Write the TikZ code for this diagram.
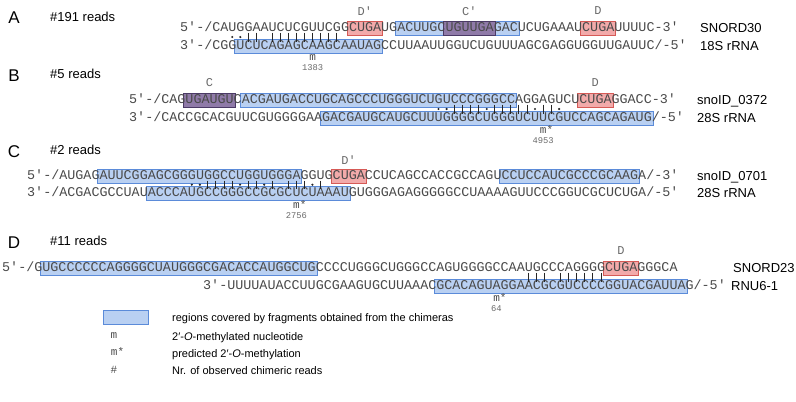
\documentclass[tikz,border=0pt]{standalone}
\usepackage{fontspec}
\setmainfont{Liberation Sans}
\newfontfamily\seqf{Liberation Mono}
\definecolor{seqgray}{HTML}{4A4A4A}
\definecolor{labgray}{HTML}{6A6A6A}
\definecolor{bluefill}{HTML}{B9D0F2}
\definecolor{blueline}{HTML}{5B8BD9}
\definecolor{redfill}{HTML}{F2AAAA}
\definecolor{redline}{HTML}{D65A56}
\definecolor{purpfill}{HTML}{8F7AA8}
\definecolor{purpline}{HTML}{4B3A66}
\def\cw{8.04}
\tikzset{
 seq/.style={font=\seqf\fontsize{13.4}{14}\selectfont, text=seqgray, anchor=base west, yshift=-3.8pt, inner sep=0pt},
 lab/.style={font=\seqf\fontsize{12}{12}\selectfont, text=labgray, inner sep=0pt},
 rna/.style={font=\fontsize{13}{13}\selectfont, anchor=base west, yshift=-4.7pt, inner sep=0pt},
 panel/.style={font=\fontsize{17}{17}\selectfont, inner sep=0pt},
 reads/.style={font=\fontsize{13}{13}\selectfont, anchor=base west, yshift=-4.7pt, inner sep=0pt},
 bluebox/.style={fill=bluefill, draw=blueline, line width=0.8pt},
 redbox/.style={fill=redfill, draw=redline, line width=0.8pt},
 purpbox/.style={fill=purpfill, draw=purpline, line width=0.8pt},
 pairbar/.style={line width=0.9pt, draw=black!85},
 pairdot/.style={fill=black!85},
 mlab/.style={font=\seqf\fontsize{11}{11}\selectfont, text=seqgray, inner sep=0pt},
 numlab/.style={font=\seqf\fontsize{8.8}{9}\selectfont, text=labgray, inner sep=0pt},
 legtext/.style={font=\fontsize{11}{11}\selectfont, anchor=base west, yshift=-4pt, inner sep=0pt},
}
% box over chars #3..#4 of a line starting at #2, centred at #5
\newcommand\seqbox[5]{\draw[#1] ({#2+\cw*#3-1.5},{#5-7}) rectangle ({#2+\cw*(#4+1)+1.5},{#5+7});}
\begin{document}
\begin{tikzpicture}[x=1pt,y=-1pt]
\useasboundingbox (0,0) rectangle (796,402);
% ---------------- Panel A
\node[panel] (pA) at (14,18) {A};
\node[reads] (rA) at (50,17) {\#191 reads};
\seqbox{redbox}{180}{21}{24}{28}
\seqbox{bluebox}{180}{27}{41}{28}
\seqbox{purpbox}{180}{33}{38}{28}
\seqbox{redbox}{180}{50}{53}{28}
\seqbox{bluebox}{180}{7}{24}{46}
\node[lab] (lA1) at ({180+\cw*23},11) {D′};
\node[lab] (lA2) at ({180+\cw*36},11) {C′};
\node[lab] (lA3) at ({180+\cw*52},11) {D};
\node[seq] (A1) at (180,28) {5′-/CAUGGAAUCUCGUUCGGCUGAUGACUUGCUGUUGAGACUCUGAAAUCUGAUUUUC-3′};
\node[seq] (A2) at (180,46) {3′-/CGGUCUCAGAGCAAGCAAUAGCCUUAAUUGGUCUGUUUAGCGAGGUGGUUGAUUC/-5′};
\foreach \i in {8,9,11,12,...,19} \draw[pairbar] ({180+\cw*(\i+0.5)},32.5) -- ++(0,9);
\foreach \i in {6,7} \fill[pairdot] ({180+\cw*(\i+0.5)},37) circle (1.2pt);
\node[mlab] (mA) at ({180+\cw*16.5},58) {m};
\node[numlab] (nA) at ({180+\cw*16.5},68) {1383};
\node[rna] (tA1) at (700,28) {SNORD30};
\node[rna] (tA2) at (700,46) {18S rRNA};
% ---------------- Panel B
\node[panel] (pB) at (14,76) {B};
\node[reads] (rB) at (50,74) {\#5 reads};
\seqbox{purpbox}{129}{7}{12}{100}
\seqbox{bluebox}{129}{14}{47}{100}
\seqbox{redbox}{129}{56}{59}{100}
\seqbox{bluebox}{129}{24}{64}{118}
\node[lab] (lB1) at ({129+\cw*10},83) {C};
\node[lab] (lB2) at ({129+\cw*58},83) {D};
\node[seq] (B1) at (129,100) {5′-/CAGUGAUGUCACGAUGACCUGCAGCCCUGGGUCUGUCCCGGGCCAGGAGUCUCUGAGGACC-3′};
\node[seq] (B2) at (129,118) {3′-/CACCGCACGUUCGUGGGGAAGACGAUGCAUGCUUUGGGGCUGGGUCUUCGUCCAGCAGAUG/-5′};
\foreach \i in {40,41,42,43,45,46,47,48,49,51,52} \draw[pairbar] ({129+\cw*(\i+0.5)},104.5) -- ++(0,9);
\foreach \i in {38,39,44,50,53} \fill[pairdot] ({129+\cw*(\i+0.5)},109) circle (1.2pt);
\node[mlab, anchor=mid west] (mB) at ({129+\cw*51.5-3.3},130.5) {m*};
\node[numlab] (nB) at ({129+\cw*51.5},141) {4953};
\node[rna] (tB1) at (697,100) {snoID\_0372};
\node[rna] (tB2) at (697,118) {28S rRNA};
% ---------------- Panel C
\node[panel] (pC) at (14,152) {C};
\node[reads] (rC) at (50,150) {\#2 reads};
\seqbox{bluebox}{27}{9}{33}{176}
\seqbox{redbox}{27}{38}{41}{176}
\seqbox{bluebox}{27}{59}{75}{176}
\seqbox{bluebox}{27}{15}{39}{193}
\node[lab] (lC1) at ({27+\cw*40},160) {D′};
\node[seq] (C1) at (27,176) {5′-/AUGAGAUUCGGAGCGGGUGGCCUGGUGGGAGGUGCUGACCUCAGCCACCGCCAGUCCUCCAUCGCCCGCAAGA/-3′};
\node[seq] (C2) at (27,193) {3′-/ACGACGCCUAUACCCAUGCCGGGCCGCGCUCUAAAUGUGGGAGAGGGGGCCUAAAAGUUCCCGGUCGCUCUGA/-5′};
\foreach \i in {22,23,24,25,27,28,30,32,33,34,36} \draw[pairbar] ({27+\cw*(\i+0.5)},180.5) -- ++(0,8.5);
\foreach \i in {20,21,26,29,35} \fill[pairdot] ({27+\cw*(\i+0.5)},184.7) circle (1.2pt);
\node[mlab, anchor=mid west] (mC) at ({27+\cw*33.5-3.3},205.5) {m*};
\node[numlab] (nC) at ({27+\cw*33.5},216) {2756};
\node[rna] (tC1) at (697,176) {snoID\_0701};
\node[rna] (tC2) at (697,193) {28S rRNA};
% ---------------- Panel D
\node[panel] (pD) at (14,243) {D};
\node[reads] (rD) at (50,241) {\#11 reads};
\seqbox{bluebox}{2}{5}{38}{268}
\seqbox{redbox}{2}{75}{78}{268}
\seqbox{bluebox}{203}{29}{59}{286}
\node[lab] (lD1) at ({2+\cw*77},251) {D};
\node[seq] (D1) at (2,268) {5′-/GUGCCCCCCAGGGGCUAUGGGCGACACCAUGGCUGCCCCUGGGCUGGGCCAGUGGGGCCAAUGCCCAGGGGCUGAGGGCA};
\node[seq] (D2) at (203,286) {3′-UUUUAUACCUUGCGAAGUGCUUAAACGCACAGUAGGAACGCGUCCCCGGUACGAUUAG/-5′};
\foreach \i in {65,66,67,69,70,...,74} \draw[pairbar] ({2+\cw*(\i+0.5)},272.5) -- ++(0,9);
\node[mlab, anchor=mid west] (mD) at ({203+\cw*36.5-3.3},298.5) {m*};
\node[numlab] (nD) at ({203+\cw*36.5},309) {64};
\node[rna] (tD1) at (733,268) {SNORD23};
\node[rna] (tD2) at (731,286) {RNU6-1};
% ---------------- Legend
\draw[bluebox] (103,310) rectangle (148,324);
\node[legtext] (g1) at (172,317) {regions covered by fragments obtained from the chimeras};
\node[mlab] (s2) at (114,336) {m};
\node[legtext] (g2) at (172,336) {2′-\textit{O}-methylated nucleotide};
\node[mlab, anchor=mid west] (s3) at (110.7,353) {m*};
\node[legtext] (g3) at (172,353) {predicted 2′-\textit{O}-methylation};
\node[mlab] (s4) at (114,370) {\#};
\node[legtext] (g4) at (172,370) {Nr. of observed chimeric reads};
\end{tikzpicture}
\end{document}
